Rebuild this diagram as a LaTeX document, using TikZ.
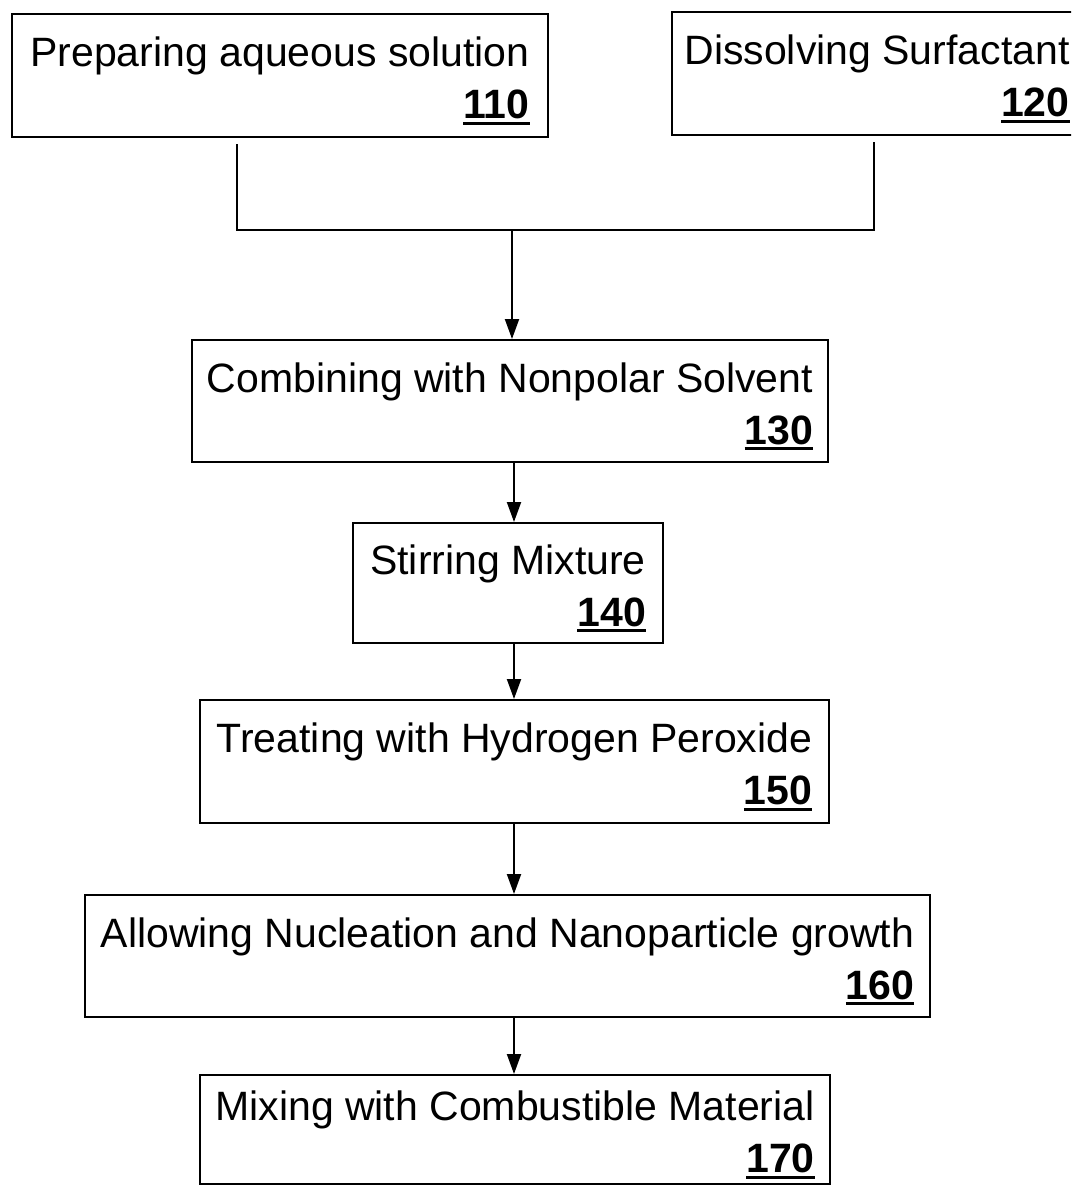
\documentclass[tikz,border=0pt]{standalone}
\usepackage{fontspec}
\setmainfont{Liberation Sans}
\usetikzlibrary{arrows.meta}
\newcommand\refnum[1]{\setbox0\hbox{\bfseries #1}\rlap{\rule[-6pt]{\wd0}{3pt}}\box0}
\newcommand\firstline{\rule{0pt}{40pt}}
\begin{document}
\begin{tikzpicture}[x=1pt,y=-1pt,
  stepbox/.style={draw, line width=2pt, rectangle, inner sep=0pt, align=right,
    font=\fontsize{41}{52}\selectfont},
  flow/.style={line width=2pt, -{Triangle[length=20pt,width=14pt]}},
  link/.style={line width=2pt}]
\clip (0,0) rectangle (1071,1186);
\fill[white] (0,0) rectangle (1071,1186);
\node[stepbox, minimum width=536pt, minimum height=123pt] (b110) at (280,75.5)
  {\firstline Preparing aqueous solution\\\refnum{110}};
\node[stepbox, minimum width=410pt, minimum height=123pt] (b120) at (877,73.5)
  {\firstline Dissolving Surfactant\\\refnum{120}};
\node[stepbox, minimum width=636pt, minimum height=122pt] (b130) at (510,401)
  {\firstline Combining with Nonpolar Solvent\\\refnum{130}};
\node[stepbox, minimum width=310pt, minimum height=120pt] (b140) at (508,583)
  {\firstline Stirring Mixture\\\refnum{140}};
\node[stepbox, minimum width=629pt, minimum height=123pt] (b150) at (514.5,761.5)
  {\firstline Treating with Hydrogen Peroxide\\\refnum{150}};
\node[stepbox, minimum width=845pt, minimum height=122pt] (b160) at (507.5,956)
  {\firstline Allowing Nucleation and Nanoparticle growth\\\refnum{160}};
\node[stepbox, minimum width=630pt, minimum height=109pt] (b170) at (515,1129.5)
  {\firstline Mixing with Combustible Material\\\refnum{170}};
\coordinate (l0) at (237,144);
\coordinate (l1) at (237,230);
\coordinate (r0) at (874,142);
\coordinate (r1) at (874,230);
\coordinate (j) at (512,230);
\coordinate (ax) at (514,0);
\draw[link] (l0) -- (l1) -- (r1) -- (r0);
\draw[flow] (j) -- (j |- b130.north);
\draw[flow] (ax |- b130.south) -- (ax |- b140.north);
\draw[flow] (ax |- b140.south) -- (ax |- b150.north);
\draw[flow] (ax |- b150.south) -- (ax |- b160.north);
\draw[flow] (ax |- b160.south) -- (ax |- b170.north);
\end{tikzpicture}
\end{document}
